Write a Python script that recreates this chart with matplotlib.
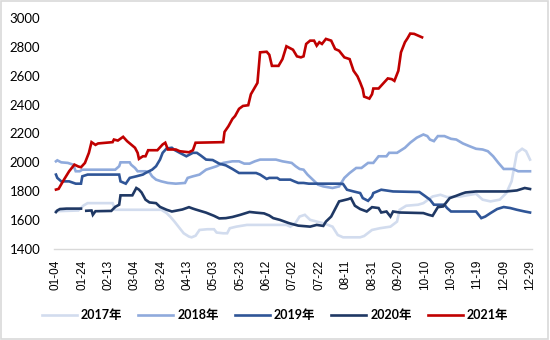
import numpy as np
import matplotlib
matplotlib.use("Agg")
import matplotlib.pyplot as plt
from matplotlib.patches import Rectangle

# x values are days counted from 4 January (leap-year calendar)
tick_labels = ["01-04", "01-24", "02-13", "03-04", "03-24", "04-13", "05-03",
               "05-23", "06-12", "07-02", "07-22", "08-11", "08-31", "09-20",
               "10-10", "10-30", "11-19", "12-09", "12-29"]

days_2017 = [0, 17, 21, 24, 43, 45, 80, 84, 87, 90, 93, 97, 101, 103, 106, 109,
             115, 120, 122, 127, 130, 132, 137, 145, 162, 175, 178, 182, 185, 189,
             193, 198, 203, 210, 214, 218, 231, 234, 240, 246, 254, 259, 261, 266,
             275, 279, 286, 292, 297, 307, 319, 324, 330, 337, 342, 346, 350, 354,
             357, 360]
price_2017 = [1660, 1665, 1700, 1716, 1716, 1670, 1670, 1647, 1620, 1588, 1553, 1507,
              1484, 1479, 1490, 1530, 1535, 1535, 1512, 1507, 1507, 1542, 1553, 1565,
              1565, 1565, 1553, 1580, 1623, 1635, 1600, 1588, 1577, 1553, 1495, 1479,
              1479, 1488, 1530, 1542, 1553, 1588, 1670, 1698, 1705, 1716, 1762, 1774,
              1758, 1762, 1781, 1740, 1728, 1740, 1786, 1867, 2065, 2093, 2076, 2018]

days_2018 = [0, 1, 4, 9, 13, 15, 18, 20, 45, 48, 49, 56, 57, 60, 62, 68, 71, 73, 76,
             80, 85, 91, 98, 100, 104, 109, 114, 122, 127, 134, 139, 143, 147, 151,
             155, 167, 172, 179, 182, 185, 188, 191, 195, 199, 203, 210, 215, 219,
             223, 228, 232, 237, 241, 245, 251, 253, 259, 265, 269, 274, 279, 282,
             284, 287, 290, 295, 300, 304, 309, 314, 319, 324, 328, 332, 336, 340,
             347, 351, 360]
price_2018 = [2006, 2013, 1999, 1995, 1983, 1937, 1937, 1948, 1948, 1972, 1999, 1999,
              1983, 1960, 1937, 1937, 1930, 1902, 1879, 1867, 1856, 1851, 1856, 1891,
              1902, 1914, 1948, 1972, 1995, 2006, 2006, 1990, 1990, 2006, 2018, 2018,
              2006, 1995, 1972, 1953, 1948, 1914, 1879, 1844, 1832, 1821, 1832, 1891,
              1925, 1960, 1960, 1995, 1995, 2041, 2041, 2065, 2065, 2100, 2135, 2170,
              2192, 2181, 2157, 2146, 2181, 2181, 2162, 2157, 2130, 2111, 2093, 2088,
              2076, 2041, 1995, 1953, 1953, 1937, 1937]

days_2019 = [0, 1, 4, 10, 15, 19, 20, 24, 43, 48, 49, 53, 56, 61, 66, 68, 73, 76, 79,
             81, 84, 88, 90, 94, 99, 104, 107, 110, 114, 119, 124, 129, 134, 139, 152,
             155, 160, 162, 168, 170, 178, 181, 184, 188, 192, 215, 218, 221, 226, 231,
             233, 237, 240, 241, 247, 256, 276, 280, 284, 287, 295, 297, 300, 319, 323,
             326, 330, 335, 340, 345, 350, 356, 360]
price_2019 = [1914, 1891, 1867, 1867, 1851, 1851, 1902, 1914, 1914, 1914, 1867, 1851,
              1891, 1902, 1914, 1925, 1948, 1972, 2018, 2065, 2095, 2100, 2085, 2065,
              2041, 2065, 2065, 2046, 2018, 2015, 1990, 1978, 1953, 1925, 1925, 1914,
              1884, 1891, 1891, 1879, 1879, 1867, 1856, 1856, 1851, 1851, 1849, 1809,
              1797, 1786, 1751, 1732, 1762, 1786, 1809, 1797, 1793, 1767, 1740, 1705,
              1705, 1682, 1658, 1658, 1612, 1623, 1647, 1675, 1689, 1682, 1670, 1658,
              1651]

# no quotes were published over the Spring Festival break (days 20-22)
days_2020 = [0, 1, 3, 8, 19, 20, 23, 27, 28, 30, 42, 45, 48, 49, 58, 61, 63, 65, 68,
             71, 76, 79, 84, 88, 96, 101, 104, 106, 114, 120, 124, 129, 134, 140, 147,
             152, 158, 162, 165, 170, 177, 184, 193, 198, 203, 205, 209, 213, 215,
             222, 224, 227, 231, 236, 240, 245, 247, 251, 254, 256, 261, 279, 283,
             286, 290, 294, 297, 299, 304, 308, 311, 319, 342, 350, 356, 360]
price_2020 = [1654, 1665, 1675, 1678, 1678, np.nan, 1663, 1665, 1635, 1660, 1662, 1690,
              1705, 1770, 1770, 1821, 1810, 1790, 1740, 1721, 1716, 1690, 1670, 1658,
              1672, 1688, 1678, 1672, 1650, 1628, 1610, 1612, 1620, 1635, 1655, 1650,
              1645, 1630, 1612, 1600, 1577, 1560, 1553, 1565, 1558, 1588, 1623, 1693,
              1728, 1744, 1751, 1698, 1675, 1658, 1688, 1682, 1651, 1658, 1623, 1658,
              1651, 1647, 1635, 1628, 1688, 1693, 1728, 1751, 1767, 1781, 1790, 1797,
              1797, 1804, 1821, 1814]

days_2021 = [0, 2, 6, 10, 14, 17, 19, 22, 25, 27, 30, 32, 43, 44, 47, 51, 54, 60, 62,
             63, 66, 68, 70, 77, 81, 83, 85, 91, 94, 101, 104, 106, 127, 128, 131,
             134, 136, 139, 142, 146, 148, 153, 155, 160, 162, 164, 169, 172, 175,
             180, 183, 186, 188, 190, 193, 196, 198, 200, 202, 205, 209, 212, 215,
             219, 223, 226, 229, 231, 233, 234, 238, 240, 241, 245, 248, 252, 255,
             257, 260, 262, 265, 267, 269, 272, 278]
price_2021 = [1810, 1815, 1878, 1937, 1983, 1970, 1965, 1995, 2065, 2139, 2120, 2130,
              2139, 2157, 2150, 2176, 2146, 2100, 2065, 2023, 2041, 2041, 2083, 2083,
              2123, 2135, 2088, 2088, 2076, 2069, 2083, 2135, 2139, 2210, 2250, 2300,
              2320, 2370, 2390, 2395, 2471, 2550, 2762, 2766, 2745, 2668, 2668, 2715,
              2804, 2780, 2734, 2727, 2734, 2820, 2843, 2843, 2808, 2832, 2820, 2855,
              2843, 2785, 2773, 2727, 2715, 2634, 2595, 2553, 2506, 2455, 2441, 2471,
              2511, 2511, 2541, 2581, 2576, 2564, 2634, 2762, 2832, 2860, 2892, 2890,
              2866]

series = [
    ("2017年", days_2017, price_2017, "#d2dcee"),
    ("2018年", days_2018, price_2018, "#8faadc"),
    ("2019年", days_2019, price_2019, "#2f5597"),
    ("2020年", days_2020, price_2020, "#1f3864"),
    ("2021年", days_2021, price_2021, "#c00000"),
]

fig = plt.figure(figsize=(5.5, 3.4), dpi=100)
ax = fig.add_axes([54 / 550, 1 - 248.7 / 340, (532 - 54) / 550, (248.7 - 18) / 340])

for name, d, v, color in series:
    ax.plot(d, v, color=color, lw=1.9, label=name, solid_joinstyle="miter")

ax.set_xlim(-1.5, 361.5)
ax.set_ylim(1400, 3000)
ax.set_yticks(np.arange(1400, 3001, 200))
ax.set_xticks(np.arange(0, 361, 20))
ax.set_xticklabels(tick_labels, rotation=90, fontsize=8.5,
                   fontfamily="Liberation Sans")
for lbl in ax.get_yticklabels():
    lbl.set_fontfamily("Lato")
    lbl.set_fontsize(9.5)
ax.tick_params(axis="both", length=0)
ax.tick_params(axis="y", pad=10)
ax.tick_params(axis="x", pad=8)
for side in ("left", "right", "top"):
    ax.spines[side].set_visible(False)
ax.spines["bottom"].set_color("#d9d9d9")
ax.spines["bottom"].set_linewidth(1.0)

leg = fig.legend(loc="center", bbox_to_anchor=(0.5, 1 - 315 / 340), ncol=5,
                 frameon=False, handlelength=2.8, handletextpad=0.3,
                 columnspacing=1.3,
                 prop={"family": ["Lato", "Noto Sans CJK SC"], "weight": "bold",
                       "size": 9})

fig.patches.append(Rectangle((0.002, 0.003), 0.995, 0.994, transform=fig.transFigure,
                             fill=False, edgecolor="#d9d9d9", lw=1.2))

fig.savefig("out.png", dpi=100)
